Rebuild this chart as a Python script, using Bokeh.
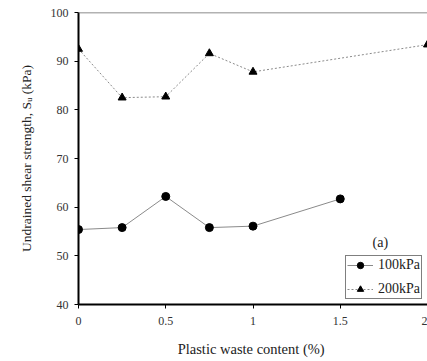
from bokeh.plotting import figure
from bokeh.models import Range1d, Span, Legend, LegendItem, Label, FixedTicker
from bokeh.embed import file_html
from bokeh.resources import INLINE

# Plastic waste content (%) and undrained shear strength (kPa)
waste_100 = [0, 0.25, 0.5, 0.75, 1.0, 1.5]
su_100 = [55.4, 55.8, 62.2, 55.8, 56.1, 61.7]
waste_200 = [0, 0.25, 0.5, 0.75, 1.0, 2.0]
su_200 = [92.5, 82.5, 82.7, 91.6, 87.8, 93.4]
x_ticks = [0, 0.5, 1, 1.5, 2]
y_ticks = [40, 50, 60, 70, 80, 90, 100]

FONT = "Liberation Serif"

p = figure(width=427, height=361, output_backend="svg", toolbar_location=None,
           x_range=Range1d(0, 2), y_range=Range1d(40, 100),
           min_border_left=78, min_border_right=0, min_border_top=12,
           min_border_bottom=57)
p.outline_line_color = None
p.xgrid.visible = False
p.ygrid.visible = False
p.background_fill_color = "white"
p.border_fill_color = "white"

for ax in (p.xaxis[0], p.yaxis[0]):
    ax.axis_line_color = "black"
    ax.axis_line_width = 2
    ax.major_tick_line_color = "black"
    ax.major_tick_line_width = 1
    ax.major_tick_out = 4
    ax.major_tick_in = 0
    ax.minor_tick_line_color = None
    ax.major_label_text_font = FONT
    ax.major_label_text_font_size = "12px"
    ax.major_label_text_color = "#333333"
    ax.axis_label_text_font = FONT
    ax.axis_label_text_font_style = "normal"
    ax.axis_label_text_color = "#222222"

p.xaxis.ticker = FixedTicker(ticks=x_ticks)
p.yaxis.ticker = FixedTicker(ticks=y_ticks)
p.xaxis.major_label_standoff = 8
p.yaxis.major_label_standoff = 6
p.xaxis.axis_label = "Plastic waste content  (%)"
p.yaxis.axis_label = "Undrained shear strength, Sᵤ (kPa)"
p.xaxis.axis_label_text_font_size = "14.5px"
p.yaxis.axis_label_text_font_size = "13.5px"
p.xaxis.axis_label_standoff = 13
p.yaxis.axis_label_standoff = 14

# top frame line
p.add_layout(Span(location=100, dimension="width", line_color="#666666", line_width=1.5))

l1 = p.line(waste_100, su_100, line_color="#8a8a8a", line_width=1)
m1 = p.scatter(waste_100, su_100, marker="circle", size=8, fill_color="black", line_color="black")
l2 = p.line(waste_200, su_200, line_color="#8a8a8a", line_width=1, line_dash="2 2")
m2 = p.scatter(waste_200, su_200, marker="triangle", size=8, fill_color="black", line_color="black")

legend = Legend(items=[LegendItem(label="100kPa", renderers=[l1, m1]),
                       LegendItem(label="200kPa", renderers=[l2, m2])],
                location=(267, 5))
legend.label_text_font = FONT
legend.label_text_font_size = "14px"
legend.label_text_color = "#222222"
legend.border_line_color = "black"
legend.border_line_width = 1.5
legend.padding = 1
legend.spacing = 8
legend.margin = 0
legend.glyph_width = 26
legend.glyph_height = 16
legend.label_height = 16
legend.label_standoff = 5
legend.background_fill_alpha = 1
p.add_layout(legend)

p.add_layout(Label(x=1.73, y=52.8, text="(a)", text_font=FONT, text_font_size="14px",
                   text_color="#222222", text_align="center", text_baseline="middle"))

open("out.html", "w").write(file_html(p, INLINE))
